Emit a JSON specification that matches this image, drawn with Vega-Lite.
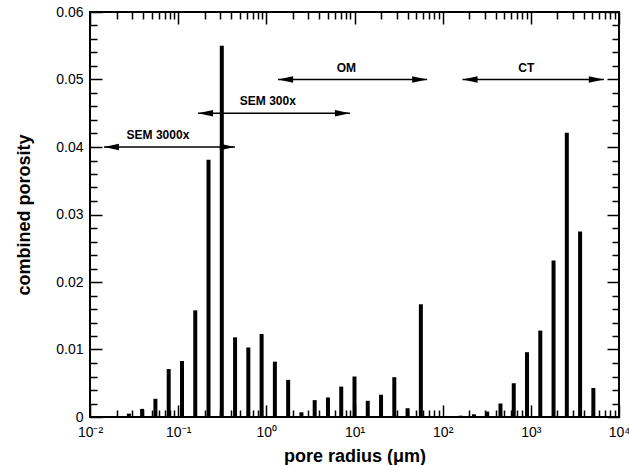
{
  "$schema": "https://vega.github.io/schema/vega-lite/v6.json",
  "width": 529,
  "height": 405,
  "autosize": {"type": "none"},
  "padding": {"left": 90, "top": 12, "right": 10, "bottom": 48},
  "background": "white",
  "config": {
    "font": "Liberation Sans",
    "view": {"stroke": "black", "strokeWidth": 2},
    "axis": {"grid": false, "domain": false, "labelFontSize": 14, "labelColor": "black", "titleColor": "black", "titleFontSize": 18, "titleFontWeight": "bold", "tickColor": "black", "tickWidth": 1.5, "labelOverlap": false, "labelFlush": false}
  },
  "datasets": {
    "bars": [
      {"r": 0.0276, "p": 0.0005}, {"r": 0.039, "p": 0.0012}, {"r": 0.0552, "p": 0.0027},
      {"r": 0.0781, "p": 0.0071}, {"r": 0.1105, "p": 0.0083}, {"r": 0.1563, "p": 0.0158},
      {"r": 0.221, "p": 0.0381}, {"r": 0.3125, "p": 0.055}, {"r": 0.442, "p": 0.0118},
      {"r": 0.625, "p": 0.0103}, {"r": 0.884, "p": 0.0123}, {"r": 1.25, "p": 0.0082},
      {"r": 1.768, "p": 0.0055}, {"r": 2.5, "p": 0.0007}, {"r": 3.536, "p": 0.0025},
      {"r": 5, "p": 0.0029}, {"r": 7.071, "p": 0.0045}, {"r": 10, "p": 0.006},
      {"r": 14.14, "p": 0.0024}, {"r": 20, "p": 0.0033}, {"r": 28.28, "p": 0.0059},
      {"r": 40, "p": 0.0013}, {"r": 56.57, "p": 0.0167}, {"r": 160, "p": 0.0002},
      {"r": 226.3, "p": 0.0004}, {"r": 320, "p": 0.0008}, {"r": 452.5, "p": 0.002},
      {"r": 640, "p": 0.005}, {"r": 905, "p": 0.0096}, {"r": 1280, "p": 0.0128},
      {"r": 1810, "p": 0.0232}, {"r": 2560, "p": 0.0421}, {"r": 3620, "p": 0.0275},
      {"r": 5120, "p": 0.0043}
    ],
    "arrows": [
      {"label": "SEM 3000x", "x1": 0.0144, "x2": 0.44, "y": 0.04, "tx": 0.059},
      {"label": "SEM 300x", "x1": 0.168, "x2": 8.87, "y": 0.045, "tx": 1.04},
      {"label": "OM", "x1": 1.36, "x2": 66.7, "y": 0.05, "tx": 8.1},
      {"label": "CT", "x1": 168, "x2": 6730, "y": 0.05, "tx": 890}
    ]
  },
  "resolve": {"axis": {"x": "independent", "y": "independent"}},
  "layer": [
    {
      "data": {"name": "bars"},
      "mark": {"type": "rule", "strokeWidth": 4, "color": "black"},
      "encoding": {
        "x": {
          "field": "r", "type": "quantitative",
          "scale": {"type": "log", "domain": [0.01, 10000], "nice": false},
          "axis": {
            "orient": "bottom",
            "title": "pore radius (μm)",
            "titlePadding": 3,
            "values": [0.01,0.02,0.03,0.04,0.05,0.06,0.07,0.08,0.09,0.1,0.2,0.3,0.4,0.5,0.6,0.7,0.8,0.9,1,2,3,4,5,6,7,8,9,10,20,30,40,50,60,70,80,90,100,200,300,400,500,600,700,800,900,1000,2000,3000,4000,5000,6000,7000,8000,9000,10000],
            "tickSize": {"condition": {"test": "abs(log(datum.value)/LN10 - round(log(datum.value)/LN10)) < 0.001", "value": -12}, "value": -7},
            "labelPadding": 20,
            "labelExpr": "abs(log(datum.value)/LN10 - round(log(datum.value)/LN10)) < 0.001 ? ['10⁻²','10⁻¹','10⁰','10¹','10²','10³','10⁴'][round(log(datum.value)/LN10)+2] : ''"
          }
        },
        "y": {
          "field": "p", "type": "quantitative",
          "scale": {"domain": [0, 0.06], "nice": false, "zero": true},
          "axis": {
            "orient": "left",
            "title": "combined porosity",
            "titlePadding": 22,
            "values": [0,0.002,0.004,0.006,0.008,0.01,0.012,0.014,0.016,0.018,0.02,0.022,0.024,0.026,0.028,0.03,0.032,0.034,0.036,0.038,0.04,0.042,0.044,0.046,0.048,0.05,0.052,0.054,0.056,0.058,0.06],
            "tickSize": {"condition": {"test": "abs(datum.value*100 - round(datum.value*100)) < 0.001", "value": -12}, "value": -7},
            "labelPadding": 19,
            "labelExpr": "datum.value == 0 ? '0' : (abs(datum.value*100 - round(datum.value*100)) < 0.001 ? format(datum.value, '.2f') : '')"
          }
        },
        "y2": {"datum": 0}
      }
    },
    {
      "data": {"name": "arrows"},
      "mark": {"type": "rule", "strokeWidth": 1.5, "color": "black"},
      "encoding": {
        "x": {
          "field": "x1", "type": "quantitative",
          "scale": {"type": "log", "domain": [0.01, 10000], "nice": false},
          "axis": {
            "orient": "top", "title": null, "labels": false,
            "values": [0.01,0.02,0.03,0.04,0.05,0.06,0.07,0.08,0.09,0.1,0.2,0.3,0.4,0.5,0.6,0.7,0.8,0.9,1,2,3,4,5,6,7,8,9,10,20,30,40,50,60,70,80,90,100,200,300,400,500,600,700,800,900,1000,2000,3000,4000,5000,6000,7000,8000,9000,10000],
            "tickSize": {"condition": {"test": "abs(log(datum.value)/LN10 - round(log(datum.value)/LN10)) < 0.001", "value": -12}, "value": -7}
          }
        },
        "x2": {"field": "x2"},
        "y": {
          "field": "y", "type": "quantitative",
          "scale": {"domain": [0, 0.06], "nice": false, "zero": true},
          "axis": {
            "orient": "right", "title": null, "labels": false,
            "values": [0,0.002,0.004,0.006,0.008,0.01,0.012,0.014,0.016,0.018,0.02,0.022,0.024,0.026,0.028,0.03,0.032,0.034,0.036,0.038,0.04,0.042,0.044,0.046,0.048,0.05,0.052,0.054,0.056,0.058,0.06],
            "tickSize": {"condition": {"test": "abs(datum.value*100 - round(datum.value*100)) < 0.001", "value": -12}, "value": -7}
          }
        }
      }
    },
    {
      "data": {"name": "arrows"},
      "mark": {"type": "point", "filled": true, "color": "black", "opacity": 1, "size": 225, "xOffset": 7.5, "shape": "M-1,0L1,-0.42L1,0.42Z"},
      "encoding": {
        "x": {"field": "x1", "type": "quantitative", "scale": {"type": "log", "domain": [0.01, 10000], "nice": false}, "axis": null},
        "y": {"field": "y", "type": "quantitative", "scale": {"domain": [0, 0.06], "nice": false, "zero": true}, "axis": null}
      }
    },
    {
      "data": {"name": "arrows"},
      "mark": {"type": "point", "filled": true, "color": "black", "opacity": 1, "size": 225, "xOffset": -7.5, "shape": "M1,0L-1,-0.42L-1,0.42Z"},
      "encoding": {
        "x": {"field": "x2", "type": "quantitative", "scale": {"type": "log", "domain": [0.01, 10000], "nice": false}, "axis": null},
        "y": {"field": "y", "type": "quantitative", "scale": {"domain": [0, 0.06], "nice": false, "zero": true}, "axis": null}
      }
    },
    {
      "data": {"name": "arrows"},
      "mark": {"type": "text", "fontSize": 12, "fontWeight": "bold", "color": "black", "dy": -12, "baseline": "middle", "align": "center"},
      "encoding": {
        "x": {"field": "tx", "type": "quantitative", "scale": {"type": "log", "domain": [0.01, 10000], "nice": false}, "axis": null},
        "y": {"field": "y", "type": "quantitative", "scale": {"domain": [0, 0.06], "nice": false, "zero": true}, "axis": null},
        "text": {"field": "label"}
      }
    }
  ]
}
